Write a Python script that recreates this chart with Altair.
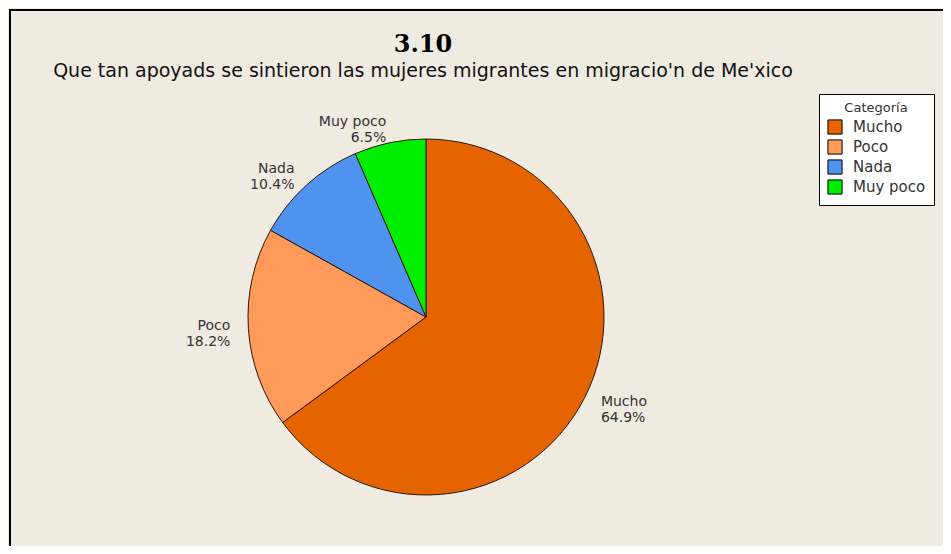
import altair as alt
import pandas as pd

# ---- data ----
categories = ["Mucho", "Poco", "Nada", "Muy poco"]
percents = [64.9, 18.2, 10.4, 6.5]
colors = ["#E66400", "#FF9A5A", "#4F93F0", "#00EE00"]
title_text = "3.10"
subtitle_text = "Que tan apoyads se sintieron las mujeres migrantes en migracio'n de Me'xico"
legend_title = "Categoría"

df = pd.DataFrame({
    "Categoría": categories,
    "pct": percents,
    "orden": list(range(len(categories))),
})
df["etiqueta"] = [f"{c}\n{p:.1f}%" for c, p in zip(categories, percents)]

W, H = 935, 538
CX, CY = 417, 308
R = 178
LR = 196
BG = "#F0EBE1"
TXT = "#333333"
FONT = "DejaVu Sans"

base = alt.Chart(df).encode(
    theta=alt.Theta("pct:Q", stack=True),
    order=alt.Order("orden:Q"),
    x=alt.value(CX),
    y=alt.value(CY),
)

pie = base.mark_arc(radius=R, stroke="#2a1508", strokeWidth=1).encode(
    color=alt.Color(
        "Categoría:N",
        scale=alt.Scale(domain=categories, range=colors),
        sort=categories,
        legend=alt.Legend(
            title=legend_title,
            orient="none",
            legendX=810,
            legendY=85,
            fillColor="white",
            strokeColor="black",
            padding=8,
            symbolType="square",
            symbolSize=200,
            symbolStrokeColor="black",
            symbolStrokeWidth=1,
            labelFont=FONT,
            labelFontSize=15,
            labelColor=TXT,
            titleFont=FONT,
            titleFontSize=13,
            titleFontWeight="normal",
            titleColor=TXT,
            titleAnchor="middle",
            titlePadding=4,
            rowPadding=0,
            labelOffset=10,
        ),
    )
)

left_labels = base.transform_calculate(
    lab="datum['Categoría'] == 'Mucho' ? '' : datum.etiqueta"
).mark_text(
    radius=LR, align="right", baseline="middle", font=FONT, fontSize=14,
    color=TXT, lineBreak="\n", lineHeight=16, dy=-3,
).encode(text="lab:N")

right_labels = base.transform_calculate(
    lab="datum['Categoría'] == 'Mucho' ? datum.etiqueta : ''"
).mark_text(
    radius=LR, align="left", baseline="middle", font=FONT, fontSize=14,
    color=TXT, lineBreak="\n", lineHeight=16, dy=-3,
).encode(text="lab:N")

one = pd.DataFrame({"t": [title_text], "s": [subtitle_text]})
title = alt.Chart(one).mark_text(
    font="DejaVu Serif", fontWeight="bold", fontSize=24, color="black",
    align="center", baseline="middle",
).encode(text="t:N", x=alt.value(414), y=alt.value(36))
subtitle = alt.Chart(one).mark_text(
    font=FONT, fontSize=19, color="#111111", align="center", baseline="middle",
).encode(text="s:N", x=alt.value(414), y=alt.value(62))

top_rule = alt.Chart(one).mark_rule(color="black", strokeWidth=2).encode(
    x=alt.value(0), x2=alt.value(W), y=alt.value(1)
)
left_rule = alt.Chart(one).mark_rule(color="black", strokeWidth=2).encode(
    x=alt.value(1), y=alt.value(0), y2=alt.value(H)
)

chart = alt.layer(
    pie, left_labels, right_labels, title, subtitle, top_rule, left_rule
).properties(
    width=W,
    height=H,
    background=BG,
    padding=0,
    autosize=alt.AutoSizeParams(type="fit", contains="padding"),
).configure_view(stroke=None)

chart.save("out.html", embed_options={"renderer": "svg", "actions": False})
